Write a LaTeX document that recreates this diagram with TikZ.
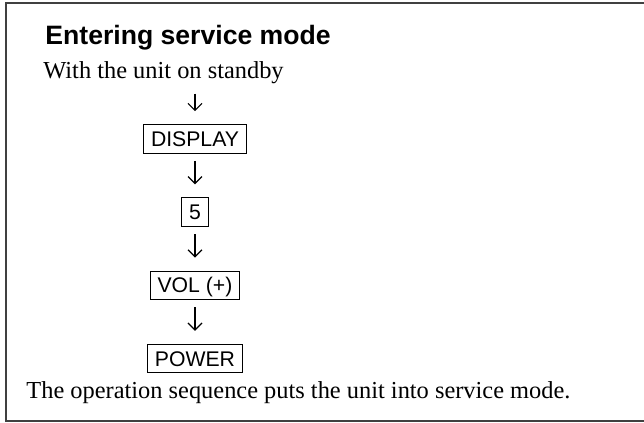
\documentclass[tikz,border=0pt]{standalone}
\usepackage{fontspec}
\setmainfont{Liberation Serif}
\setsansfont{Liberation Sans}
\usetikzlibrary{positioning,arrows.meta}

\begin{document}
\begin{tikzpicture}[x=0.5pt,y=-0.5pt,>={Straight Barb[length=3.5pt,width=7pt]},node distance=21.8pt,
  key/.style={draw,line width=0.5pt,font=\sffamily\fontsize{10.6}{12}\selectfont,inner xsep=3.6pt,inner ysep=3.4pt,text height=7.5pt,text depth=0pt},
  txt/.style={font=\fontsize{12.2}{14}\selectfont,inner sep=0pt,anchor=base west},
  ttl/.style={font=\sffamily\bfseries\fontsize{13.3}{16}\selectfont,inner sep=0pt,anchor=base west},
  flow/.style={->,line width=0.6pt,shorten <=3.5pt,shorten >=6.5pt}]
  \useasboundingbox (0,0) rectangle (644,423);
  \draw[line width=0.8pt,black!75] (6,3) rectangle (660,421);
  \node[ttl] (title) at (45,45) {Entering service mode};
  \node[txt] (stby) at (43,78) {With the unit on standby};
  \node[key] (disp) at (195,139) {DISPLAY};
  \node[key,below=of disp] (five) {5};
  \node[key,below=of five] (vol) {VOL (+)};
  \node[key,below=of vol] (power) {POWER};
  \node[txt] (note) at (26,398) {The operation sequence puts the unit into service mode.};
  \draw[flow,shorten <=5pt] (disp.north |- stby.south) -- (disp.north);
  \draw[flow] (disp) -- (five);
  \draw[flow] (five) -- (vol);
  \draw[flow] (vol) -- (power);
\end{tikzpicture}
\end{document}
